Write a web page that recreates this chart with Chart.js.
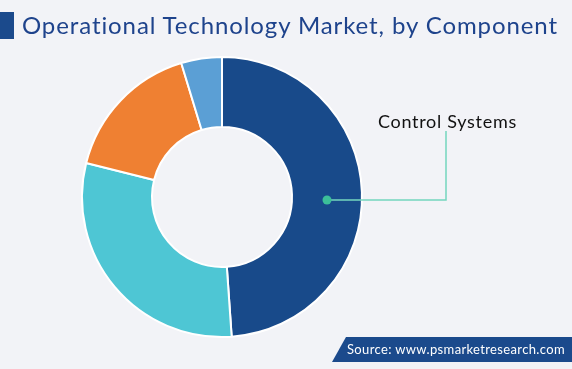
<!DOCTYPE html>
<html><head><meta charset="utf-8">
<script src="https://cdn.jsdelivr.net/npm/chart.js@4/dist/chart.umd.min.js"></script>
<style>
html,body{margin:0;padding:0;background:#f2f3f7;}
#wrap{position:relative;width:572px;height:369px;overflow:hidden;background:#f2f3f7;}
canvas{position:absolute;left:0;top:0;}
#tbar{position:absolute;left:0;top:12px;width:14px;height:27px;background:#1b4a8c;}
#title{position:absolute;left:22px;top:10px;font-family:Lato,sans-serif;font-size:24px;color:#1e438c;white-space:nowrap;letter-spacing:0.9px;}
#lab{position:absolute;left:378px;top:110px;font-family:Lato,sans-serif;font-size:18px;color:#111;white-space:nowrap;letter-spacing:0.7px;}
#src{position:absolute;left:332px;top:337px;width:240px;height:25px;background:#1b4a8c;clip-path:polygon(14px 0,100% 0,100% 100%,0 100%);}
#srct{position:absolute;left:347px;top:341px;font-family:Lato,sans-serif;font-size:13px;color:#fff;white-space:nowrap;letter-spacing:0.35px;}
</style></head>
<body><div id="wrap">
<canvas id="c" width="572" height="369"></canvas>
<div id="tbar"></div>
<div id="title">Operational Technology Market, by Component</div>
<div id="lab">Control Systems</div>
<div id="src"></div>
<div id="srct">Source: www.psmarketresearch.com</div>
</div>
<script>
const categories = ["Control Systems", "Segment 2", "Segment 3", "Segment 4"];
const shares = [48.9, 30.0, 16.4, 4.7];
const colors = ["#184a8a", "#4ec6d4", "#ef8032", "#5b9fd5"];

const leader = {
  id: 'leader',
  afterDatasetsDraw(chart) {
    const arc = chart.getDatasetMeta(0).data[0];
    const ctx = chart.ctx;
    const r = (arc.innerRadius + arc.outerRadius) / 2;
    const x0 = arc.x + r, y0 = arc.y + 3;
    ctx.save();
    ctx.strokeStyle = '#74d6be';
    ctx.lineWidth = 1.5;
    ctx.beginPath();
    ctx.moveTo(x0, y0);
    ctx.lineTo(446, y0);
    ctx.lineTo(446, 131);
    ctx.stroke();
    ctx.fillStyle = '#3cbf99';
    ctx.beginPath();
    ctx.arc(x0, y0, 4.5, 0, Math.PI * 2);
    ctx.fill();
    ctx.restore();
  }
};

new Chart(document.getElementById('c'), {
  type: 'doughnut',
  data: {
    labels: categories,
    datasets: [{
      data: shares,
      backgroundColor: colors,
      borderColor: '#ffffff',
      borderWidth: 2
    }]
  },
  options: {
    responsive: false,
    animation: false,
    cutout: '50%',
    layout: { padding: { left: 81, right: 209, top: 56, bottom: 31 } },
    plugins: { legend: { display: false }, tooltip: { enabled: false } }
  },
  plugins: [leader]
});
</script>
</body></html>
